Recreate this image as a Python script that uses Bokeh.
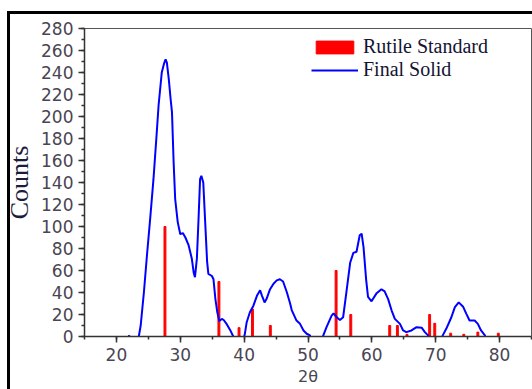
from bokeh.plotting import figure
from bokeh.models import SingleIntervalTicker, Legend, LegendItem, Range1d
from bokeh.embed import file_html
from bokeh.resources import INLINE

# Rutile standard reference lines (2theta, counts)
rutile_x = [27.6, 36.05, 39.2, 41.3, 44.1, 54.4, 56.7, 62.8, 64.0, 65.5, 69.05, 69.85, 72.35, 74.4, 76.6, 79.8]
rutile_y = [100, 50, 8, 25, 10, 60, 20, 10, 10, 2, 20, 12, 3, 2, 4, 3]

# Final solid pattern (2theta, counts)
solid_x = [21.6, 22.0, 22.2, 23.3, 23.5, 23.8, 24.3, 24.8, 25.3, 25.8, 26.25, 26.6, 27.1, 27.45, 27.7,
           27.9, 28.2, 28.5, 28.7, 28.96, 29.2, 29.6, 30.0, 30.4, 30.8, 31.3, 31.8, 32.1, 32.3, 32.6,
           32.86, 33.1, 33.3, 33.6, 33.9, 34.2, 34.4, 34.95, 35.2, 35.5, 35.8, 36.1, 36.5, 36.8, 37.3,
           37.8, 38.3, 38.5, 39.8, 40.1, 40.4, 40.9, 41.45, 42.0, 42.5, 42.8, 43.2, 43.5, 44.06, 44.6,
           45.1, 45.6, 46.1, 46.7, 47.2, 47.45, 48.2, 48.75, 49.3, 49.8, 50.3, 50.6, 52.1, 52.4, 52.9,
           53.7, 54.0, 54.5, 55.0, 55.5, 56.05, 56.6, 57.1, 57.6, 58.1, 58.4, 58.7, 59.1, 59.4, 59.95,
           60.7, 61.5, 62.0, 62.55, 63.1, 63.6, 64.4, 64.9, 65.4, 66.2, 67.0, 67.8, 68.3, 68.8, 69.1,
           70.8, 71.1, 71.65, 72.45, 73.0, 73.6, 74.3, 74.8, 75.3, 76.1, 76.6, 77.1, 77.7, 78.0]
solid_y = [-5, 1, -5, -5, 0, 10, 40, 75, 108, 143, 180, 210, 240, 248, 252,
           249, 234, 215, 204, 158, 125, 104, 93, 94, 90, 83, 71, 58, 54, 71,
           107, 143, 146, 140, 104, 68, 57, 55, 52, 34, 22, 14, 16, 15, 11,
           6, 0, -5, -5, 2, 13, 22, 28, 37, 42, 37, 31, 34, 43, 48,
           51, 52, 50, 40, 30, 24, 14.5, 11.5, 5.5, 2.5, 1, -5, -5, 1, 8.5,
           19, 21, 17.5, 15, 17.5, 42, 67, 76, 77, 92, 93.5, 81, 52, 36, 32,
           39, 43, 41, 34, 23.6, 16, 11.5, 5.5, 4, 5.5, 8.5, 8, 4, 1, -5,
           -5, 1, 7, 17.5, 26.7, 31, 27, 20.6, 14.5, 14.5, 11.5, 5.5, 1, -5]

x_label = "2θ"
y_label = "Counts"
legend_labels = ["Rutile Standard", "Final Solid"]

p = figure(width=532, height=389, output_backend="svg", toolbar_location=None,
           x_range=Range1d(15, 85), y_range=Range1d(0, 280),
           min_border_left=84, min_border_right=1, min_border_top=28, min_border_bottom=53)
# outer black picture edge (left and top), drawn behind the transparent canvas border area
p.styles = {"box-shadow": "inset 7px 11px 0 0 white, inset 10px 14px 0 0 black",
            "background-color": "white"}

p.xgrid.visible = False
p.ygrid.visible = False
p.outline_line_color = "#555555"
p.outline_line_width = 1
p.background_fill_color = "white"
p.border_fill_color = None

bars = p.vbar(x=rutile_x, top=rutile_y, bottom=0, width=0.3, color="red")
line = p.line(solid_x, solid_y, color="#0000ff", line_width=2)

p.xaxis.ticker = SingleIntervalTicker(interval=10, num_minor_ticks=2)
p.yaxis.ticker = SingleIntervalTicker(interval=20, num_minor_ticks=2)

for ax in (p.xaxis[0], p.yaxis[0]):
    ax.axis_line_color = "#333333"
    ax.axis_line_width = 1.5
    ax.major_tick_line_color = "#333333"
    ax.minor_tick_line_color = "#333333"
    ax.major_tick_line_width = 1.5
    ax.minor_tick_line_width = 1.5
    ax.major_tick_out = 6
    ax.major_tick_in = 0
    ax.minor_tick_out = 3
    ax.minor_tick_in = 0
    ax.major_label_text_font = "DejaVu Sans"
    ax.major_label_text_font_size = "17px"
    ax.major_label_text_color = "#4a4552"
    ax.major_label_standoff = 5

p.xaxis.axis_label = x_label
p.xaxis.axis_label_text_font = "DejaVu Sans"
p.xaxis.axis_label_text_font_size = "16px"
p.xaxis.axis_label_text_font_style = "normal"
p.xaxis.axis_label_text_color = "#4a4552"
p.xaxis.axis_label_standoff = 3

p.yaxis.axis_label = y_label
p.yaxis.axis_label_text_font = "Liberation Serif"
p.yaxis.axis_label_text_font_size = "26px"
p.yaxis.axis_label_text_font_style = "normal"
p.yaxis.axis_label_text_color = "#1c1c3c"
p.yaxis.axis_label_standoff = 4

legend = Legend(items=[LegendItem(label=legend_labels[0], renderers=[bars]),
                       LegendItem(label=legend_labels[1], renderers=[line])],
                location=(227, 255), padding=0, margin=0, spacing=0,
                glyph_width=47, glyph_height=16, label_height=20, label_standoff=5,
                label_text_font="Liberation Serif", label_text_font_size="20px",
                label_text_color="#141432", border_line_color=None,
                background_fill_alpha=0)
p.add_layout(legend)

open("out.html", "w").write(file_html(p, INLINE))
